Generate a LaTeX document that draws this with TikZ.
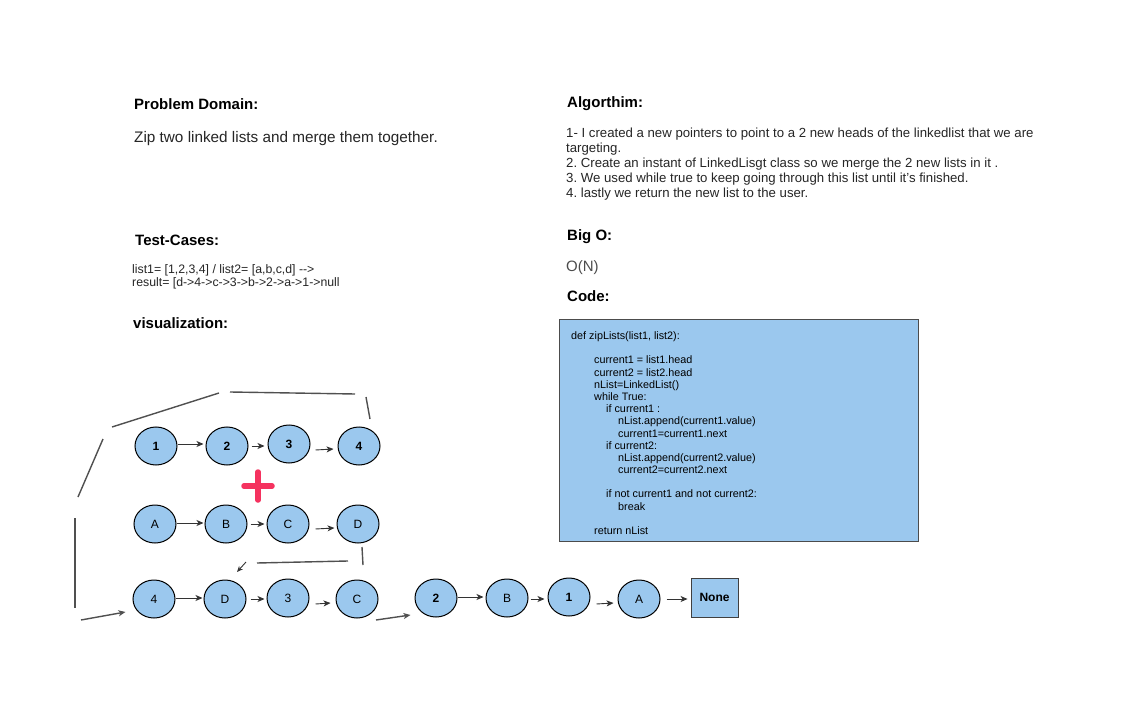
\documentclass[tikz,border=0pt]{standalone}
\usepackage{fontspec}
\setmainfont{Liberation Sans}
\usetikzlibrary{shapes.geometric,arrows.meta,calc}
\definecolor{nodeblue}{RGB}{155,200,238}
\definecolor{linegray}{RGB}{80,80,80}
\definecolor{plusred}{RGB}{245,50,95}
\frenchspacing
\begin{document}
\begin{tikzpicture}[x=1pt,y=-1pt,
  heading/.style={anchor=base west,inner sep=0pt,font=\fontsize{15}{18}\selectfont\bfseries},
  body/.style={anchor=base west,inner sep=0pt},
  lnode/.style={ellipse,draw=black,line width=1pt,fill=nodeblue,minimum width=42pt,minimum height=38pt,inner sep=0pt,font=\fontsize{12}{14}\selectfont},
  bnum/.style={font=\fontsize{12}{14}\selectfont\bfseries},
  arr/.style={draw=black!80,line width=0.9pt,-{Stealth[length=7pt,width=6pt,inset=2pt]}},
  wire/.style={draw=linegray,line width=1.4pt},
  wirearr/.style={draw=linegray,line width=1.4pt,-{Stealth[length=7pt,width=6pt,inset=2pt]}},
]
\useasboundingbox (0,0) rectangle (1122,722);
\fill[white] (0,0) rectangle (1122,722);

% left column texts
\node[heading] (pd) at (134,110) {Problem Domain:};
\node[body,font=\fontsize{15.3}{18}\selectfont,text=black!85] (pdt) at (134,143) {Zip two linked lists and merge them together.};
\node[heading] (tc) at (135,246) {Test-Cases:};
\node[body,font=\fontsize{12.3}{14}\selectfont,text=black!85] (tc1) at (132,273) {list1= [1,2,3,4] / list2= [a,b,c,d] -{}->};
\node[body,font=\fontsize{12.3}{14}\selectfont,text=black!85] (tc2) at (132,287) {result= [d-{}>4-{}>c-{}>3-{}>b-{}>2-{}>a-{}>1-{}>null};
\node[heading] (vis) at (133,328) {visualization:};

% right column texts
\node[heading] (alg) at (567,108) {Algorthim:};
\node[anchor=north west,inner sep=0pt,align=left,font=\fontsize{13.2}{15}\selectfont,text=black!85] (algt) at (566,127.5)
 {1- I created a new pointers to point to a 2 new heads of the linkedlist that we are\\
  targeting.\\
  2. Create an instant of LinkedLisgt class so we merge the 2 new lists in it .\\
  3. We used while true to keep going through this list until it's finished.\\
  4. lastly we return the new list to the user.};
\node[heading] (bigo) at (567,241) {Big O:};
\node[body,font=\fontsize{15}{18}\selectfont,text=black!70] (on) at (566,272) {O(N)};
\node[heading] (code) at (567,301) {Code:};

% code box
\draw[draw=black!70,line width=1pt,fill=nodeblue] (559,319) rectangle (918,541);
\node[anchor=north west,inner sep=0pt,align=left,font=\fontsize{10.8}{12.19}\selectfont] (codet) at (571,331.5)
 {def zipLists(list1, list2):\\
  \mbox{}\\
  \hspace*{23pt}current1 = list1.head\\
  \hspace*{23pt}current2 = list2.head\\
  \hspace*{23pt}nList=LinkedList()\\
  \hspace*{23pt}while True:\\
  \hspace*{35pt}if current1 :\\
  \hspace*{47pt}nList.append(current1.value)\\
  \hspace*{47pt}current1=current1.next\\
  \hspace*{35pt}if current2:\\
  \hspace*{47pt}nList.append(current2.value)\\
  \hspace*{47pt}current2=current2.next\\
  \mbox{}\\
  \hspace*{35pt}if not current1 and not current2:\\
  \hspace*{47pt}break\\
  \mbox{}\\
  \hspace*{23pt}return nList};

% row 1
\node[lnode,bnum] (a1) at (156,446) {1};
\node[lnode,bnum] (a2) at (227,446) {2};
\node[lnode,bnum] (a3) at (289,444) {3};
\node[lnode,bnum] (a4) at (359,446) {4};
% row 2
\node[lnode] (b1) at (155,524) {A};
\node[lnode] (b2) at (226,524) {B};
\node[lnode] (b3) at (288,524) {C};
\node[lnode] (b4) at (358,524) {D};
% row 3
\node[lnode] (c1) at (154,599) {4};
\node[lnode] (c2) at (225,599) {D};
\node[lnode] (c3) at (288,598) {3};
\node[lnode] (c4) at (357,599) {C};
\node[lnode,bnum] (c5) at (436,598) {2};
\node[lnode] (c6) at (507,598) {B};
\node[lnode,bnum] (c7) at (569,597) {1};
\node[lnode] (c8) at (639,599) {A};
\node[draw=black!75,line width=0.9pt,fill=nodeblue,minimum width=47pt,minimum height=39pt,inner sep=0pt,font=\fontsize{12}{14}\selectfont\bfseries] (none) at (714.5,597.5) {None};

% plus sign
\draw[plusred,line width=5.5pt,line cap=round] (244,486) -- (272,486);
\draw[plusred,line width=5.5pt,line cap=round] (258,472) -- (258,500);

% arrows row 1
\draw[arr] ($(a1.east)+(0,-2)$) -- ($(a2.west)+(-2,-2)$);
\draw[arr] ($(a2.east)+(3,0)$) -- ($(a3.west)+(-3,2)$);
\draw[arr] ($(a3.east)+(5,6)$) -- ($(a4.west)+(-4,3)$);
% arrows row 2
\draw[arr] ($(b1.east)+(0,-1)$) -- ($(b2.west)+(-1,-1)$);
\draw[arr] ($(b2.east)+(3,0)$) -- ($(b3.west)+(-2,0)$);
\draw[arr] ($(b3.east)+(6,5)$) -- ($(b4.west)+(-2,4)$);
% arrows row 3
\draw[arr] ($(c1.east)+(0,-1)$) -- ($(c2.west)+(-1,-1)$);
\draw[arr] ($(c2.east)+(4,0)$) -- ($(c3.west)+(-2,1)$);
\draw[arr] ($(c3.east)+(6,6)$) -- ($(c4.west)+(-5,4)$);
\draw[arr] ($(c5.east)+(0,-1)$) -- ($(c6.west)+(-2,-1)$);
\draw[arr] ($(c6.east)+(2,1)$) -- ($(c7.west)+(-3,2)$);
\draw[arr] ($(c7.east)+(6,7)$) -- ($(c8.west)+(-4,4)$);
\draw[arr] ($(c8.east)+(6,0)$) -- ($(none.west)+(-3,1.5)$);

% outer path
\coordinate (p1) at (75,518);
\coordinate (p2) at (75,608);
\draw[wire] (p1) -- (p2);
\draw[wire] (78,497) -- (103,439);
\draw[wire] (112,427) -- (219,393);
\draw[wire] (230,392) -- (355,394);
\draw[wire] (366,397) -- (370,419);
\coordinate (s1) at (81,620);
\draw[wirearr] (s1) -- ($(c1.west)+(-7,13)$);
% inner path
\draw[wire] (362,547) -- (363,565);
\draw[wire] (348,561) -- (257,563);
\coordinate (s2) at (246,562);
\draw[draw=black!80,line width=0.9pt,-{Stealth[length=6pt,width=5pt,inset=2pt]}] (s2) -- (237,572);
\coordinate (s3) at (376,620);
\draw[wirearr] (s3) -- ($(c5.west)+(-4,17)$);
\end{tikzpicture}
\end{document}
